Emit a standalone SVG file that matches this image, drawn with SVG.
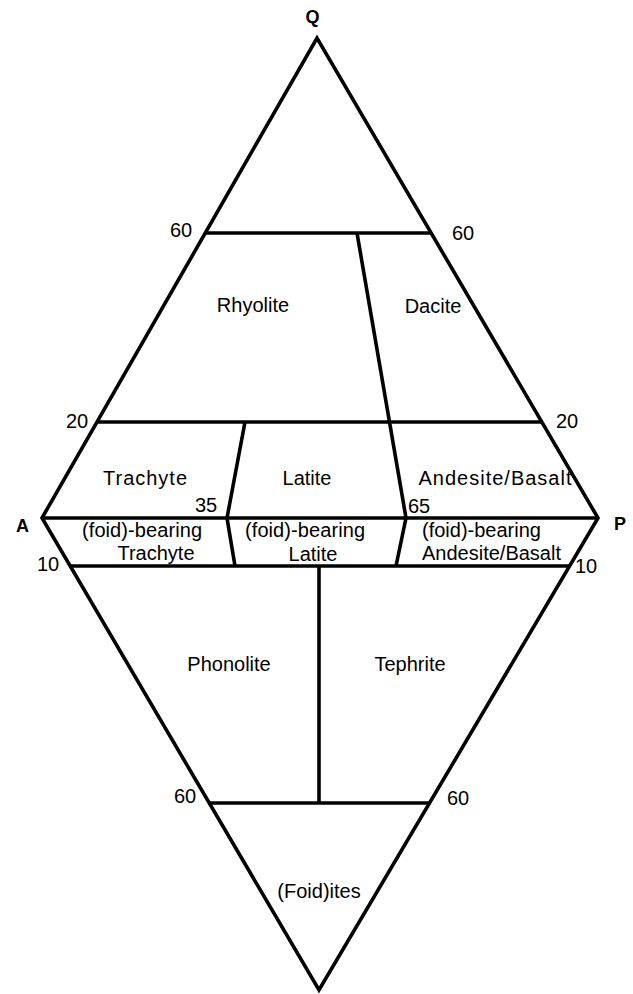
<svg xmlns="http://www.w3.org/2000/svg" width="633" height="994" viewBox="0 0 633 994">
<style>
.ln{fill:none;stroke:#000;stroke-width:3.6;stroke-linejoin:miter;stroke-linecap:butt}
.t{font-family:"Liberation Sans",Arial,Helvetica,sans-serif;font-size:20px;fill:#000}
.c{text-anchor:middle}
.v{font-family:"Liberation Sans",Arial,Helvetica,sans-serif;font-size:18px;font-weight:bold;fill:#000;text-anchor:middle}
</style>
<rect width="633" height="994" fill="#fff"/>
<g id="connectors">
<path class="ln" d="M42,518 L317,38 L598,518 L319,990 Z"/>
<line class="ln" x1="205" y1="233" x2="431" y2="233"/>
<line class="ln" x1="97" y1="422" x2="542" y2="422"/>
<line class="ln" x1="42" y1="518" x2="598" y2="518"/>
<line class="ln" x1="70" y1="566" x2="570" y2="566"/>
<line class="ln" x1="209" y1="803" x2="430" y2="803"/>
<polyline class="ln" points="357,233 406,518 396,566"/>
<polyline class="ln" points="245,422 227,518 235,566"/>
<line class="ln" x1="319" y1="566" x2="319" y2="803"/>
</g>
<g id="vertices">
<text class="v" x="312.5" y="23">Q</text>
<text class="v" x="22.5" y="532">A</text>
<text class="v" x="620" y="530">P</text>
</g>
<g id="ticks">
<text class="t" x="170" y="237">60</text>
<text class="t" x="452" y="240">60</text>
<text class="t" x="66" y="428">20</text>
<text class="t" x="556" y="428">20</text>
<text class="t" x="195" y="512">35</text>
<text class="t" x="408" y="513">65</text>
<text class="t" x="37" y="571">10</text>
<text class="t" x="575" y="573">10</text>
<text class="t" x="174" y="803">60</text>
<text class="t" x="447" y="805">60</text>
</g>
<g id="rhyolite"><text class="t c" x="253" y="312">Rhyolite</text></g>
<g id="dacite"><text class="t c" x="433" y="313">Dacite</text></g>
<g id="trachyte"><text class="t c" x="145" y="485" textLength="84">Trachyte</text></g>
<g id="latite"><text class="t c" x="307" y="485">Latite</text></g>
<g id="andesite-basalt"><text class="t c" x="495" y="485" textLength="153">Andesite/Basalt</text></g>
<g id="foid-trachyte">
<text class="t c" x="142" y="537" textLength="120">(foid)-bearing</text>
<text class="t c" x="156" y="560">Trachyte</text>
</g>
<g id="foid-latite">
<text class="t c" x="305" y="537" textLength="120">(foid)-bearing</text>
<text class="t c" x="313" y="561">Latite</text>
</g>
<g id="foid-andesite-basalt">
<text class="t" x="422" y="537">(foid)-bearing</text>
<text class="t" x="422" y="560">Andesite/Basalt</text>
</g>
<g id="phonolite"><text class="t c" x="229" y="671">Phonolite</text></g>
<g id="tephrite"><text class="t c" x="410" y="671">Tephrite</text></g>
<g id="foidites"><text class="t c" x="319" y="898">(Foid)ites</text></g>
</svg>
